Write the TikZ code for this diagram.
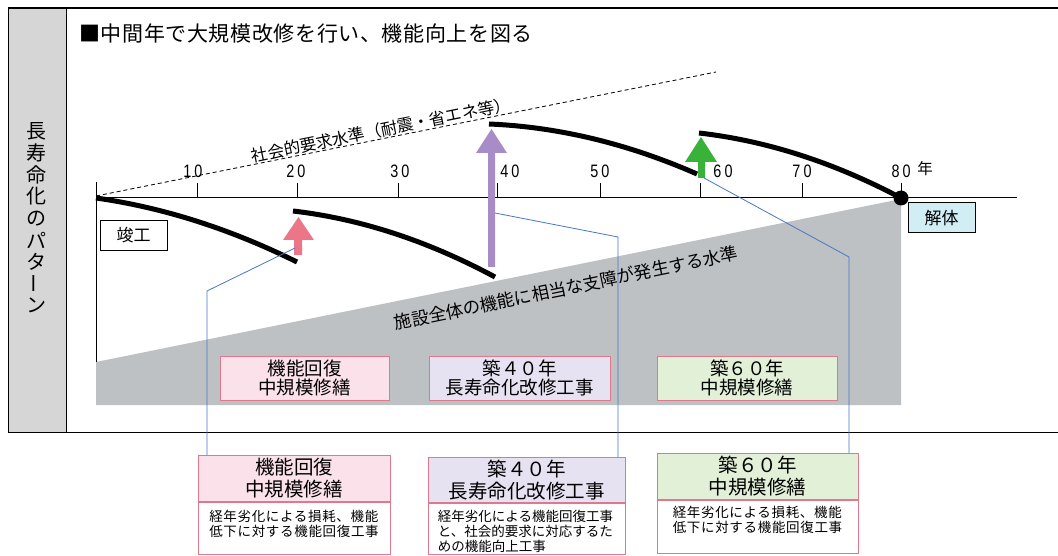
\documentclass[tikz,border=0pt]{standalone}
\usepackage{fontspec}
\setmainfont{Noto Sans CJK JP}
\newfontfamily\numf[FakeStretch=0.8]{Liberation Sans}
\usetikzlibrary{calc}
\definecolor{bandgray}{RGB}{190,193,196}
\definecolor{colgray}{RGB}{214,214,214}
\definecolor{pinkA}{RGB}{236,118,135}
\definecolor{purpA}{RGB}{168,140,200}
\definecolor{greenA}{RGB}{56,178,56}
\definecolor{leadc}{RGB}{70,120,200}
\definecolor{pinkF}{RGB}{251,226,234}
\definecolor{purpF}{RGB}{230,226,242}
\definecolor{greenF}{RGB}{226,240,216}
\definecolor{boxedge}{RGB}{222,120,140}
\definecolor{cyanF}{RGB}{210,238,245}
\tikzset{
  curveline/.style={line width=5pt, line cap=butt},
  leadline/.style={leadc, line width=0.8pt},
  axisline/.style={line width=1pt},
  tick/.style={line width=1pt},
  numlab/.style={font=\numf\fontsize{18}{18}\selectfont, inner sep=0pt},
  bandbox/.style={draw=boxedge, line width=0.8pt, minimum height=44pt, align=center, inner sep=0pt,
     font=\fontsize{18.5}{19}\selectfont},
  headbox/.style={draw=boxedge, line width=0.8pt, align=center, inner sep=0pt, anchor=north,
     font=\fontsize{19.5}{22}\selectfont},
  bodybox/.style={draw=boxedge, line width=0.8pt, fill=white, inner sep=0pt, anchor=north},
  bodytext/.style={align=left, inner sep=0pt, anchor=north, font=\fontsize{13.5}{15}\selectfont},
  labelbox/.style={draw, line width=1pt, inner sep=0pt, minimum width=67pt, minimum height=30pt,
     font=\fontsize{17}{17}\selectfont}
}
\begin{document}
\begin{tikzpicture}[x=1pt,y=-1pt]
\useasboundingbox (0,0) rectangle (1058,556);
% frame
\fill[colgray] (8,8) rectangle (66,432);
\draw[line width=1.2pt] (8,8) -- (1058,8);
\draw[line width=1pt] (8,432) -- (1058,432);
\draw[line width=1pt] (8,8) -- (8,432);
\draw[line width=1pt] (66,8) -- (66,432);
% vertical label
\foreach \c [count=\i] in {長,寿,命,化,の,パ,タ,{\rotatebox[origin=c]{90}{ー}},ン}
  \node[font=\fontsize{20}{20}\selectfont, inner sep=0pt] (v\i) at (37,{131+(\i-1)*21.8}) {\c};
% title
\node[anchor=west, inner sep=0pt, font=\fontsize{21}{21}\selectfont\addfontfeature{LetterSpace=3}] (title) at (79,34) {■中間年で大規模改修を行い、機能向上を図る};
% gray band
\fill[bandgray] (96,362) -- (901,199) -- (901,405) -- (96,405) -- cycle;
\node[rotate=11.6, inner sep=0pt, font=\fontsize{17.5}{17.5}\selectfont] (lowlvl) at (566,288) {施設全体の機能に相当な支障が発生する水準};
% social level
\draw[line width=0.8pt, dash pattern=on 4pt off 3pt] (96,196) -- (716,72);
\node[rotate=11.5, inner sep=0pt, font=\fontsize{16.5}{16.5}\selectfont] (social) at (381,130) {社会的要求水準（耐震・省エネ等）};
% axes
\draw[axisline] (96,182) -- (96,362);
\draw[axisline] (96,198) -- (1017,198);
\foreach \x in {197,297,398,497,600,700,802,901}
  \draw[tick] (\x,183) -- (\x,198);
\node[numlab] (n10) at (193,171) {1\,0};
\node[numlab] (n20) at (296,171) {2\,0};
\node[numlab] (n30) at (400,171) {3\,0};
\node[numlab] (n40) at (510,171) {4\,0};
\node[numlab] (n50) at (600,171) {5\,0};
\node[numlab] (n60) at (723,171) {6\,0};
\node[numlab] (n70) at (802,171) {7\,0};
\node[numlab] (n80) at (901,171) {8\,0};
\node[inner sep=0pt, font=\fontsize{15.5}{15.5}\selectfont] (nen) at (925,169) {年};
% curves
\draw[curveline] (96,198) .. controls (163,207.5) and (230,228.8) .. (297,262);
\draw[curveline] (293,211) .. controls (360.3,218.8) and (427.7,240.8) .. (495,277);
\draw[curveline] (489,124) .. controls (558.3,126.9) and (627.7,143.6) .. (697,174);
\draw[curveline] (699,133) .. controls (766.3,140.7) and (833.7,162.3) .. (901,198);
% arrows
\fill[pinkA] (294,255) -- (294,240) -- (283,240) -- (298.5,217) -- (314,240) -- (302,240) -- (302,255) -- cycle;
\fill[purpA] (488,267) -- (488,153) -- (476,153) -- (491.5,129) -- (507,153) -- (495,153) -- (495,267) -- cycle;
\fill[greenA] (698,178) -- (698,162) -- (685,162) -- (701,137) -- (717,162) -- (705,162) -- (705,178) -- cycle;
\coordinate (pinkfoot) at (295,248);
\coordinate (purpfoot) at (495,213);
\coordinate (greenfoot) at (704,178);
% end dot
\fill (901,198) circle (7.5pt);
% labels
\node[labelbox, fill=white] (kanko) at (133.5,235.5) {竣工};
\node[labelbox, fill=cyanF] (kaitai) at (941.5,218) {解体};
% band boxes
\node[bandbox, fill=pinkF, minimum width=169pt] (m1) at (304.5,378) {機能回復\\中規模修繕};
\node[bandbox, fill=purpF, minimum width=181pt] (m2) at (519.5,378) {築４０年\\長寿命化改修工事};
\node[bandbox, fill=greenF, minimum width=180pt] (m3) at (747,378) {築６０年\\中規模修繕};
% bottom boxes
\node[headbox, fill=pinkF, minimum width=192pt, minimum height=46pt] (h1) at (294,455) {機能回復\\中規模修繕};
\node[bodybox, minimum width=192pt, minimum height=52pt] (b1) at (h1.south) {};
\node[bodytext, font=\fontsize{13.5}{15}\selectfont\addfontfeature{LetterSpace=5}] (t1) at ($(b1.north)+(0,8)$) {経年劣化による損耗、機能\\低下に対する機能回復工事};
\node[headbox, fill=purpF, minimum width=197pt, minimum height=45pt] (h2) at (526.5,457) {築４０年\\長寿命化改修工事};
\node[bodybox, minimum width=197pt, minimum height=51pt] (b2) at (h2.south) {};
\node[bodytext] (t2) at ($(b2.north)+(-1,7)$) {経年劣化による機能回復工事\\と、社会的要求に対応するた\\めの機能向上工事};
\node[headbox, fill=greenF, minimum width=201pt, minimum height=46pt] (h3) at (757.5,453) {築６０年\\中規模修繕};
\node[bodybox, minimum width=201pt, minimum height=53pt] (b3) at (h3.south) {};
\node[bodytext, font=\fontsize{13.5}{15}\selectfont\addfontfeature{LetterSpace=5}] (t3) at ($(b3.north)+(0,6)$) {経年劣化による損耗、機能\\低下に対する機能回復工事};
% leaders
\coordinate (k1) at (207,291);
\coordinate (k2) at (618,237);
\coordinate (k3) at (849,257);
\draw[leadline] (pinkfoot) -- (k1) -- (k1 |- h1.north);
\draw[leadline] (purpfoot) -- (k2) -- (k2 |- h2.north);
\draw[leadline] (greenfoot) -- (k3) -- (k3 |- h3.north);
\end{tikzpicture}
\end{document}
